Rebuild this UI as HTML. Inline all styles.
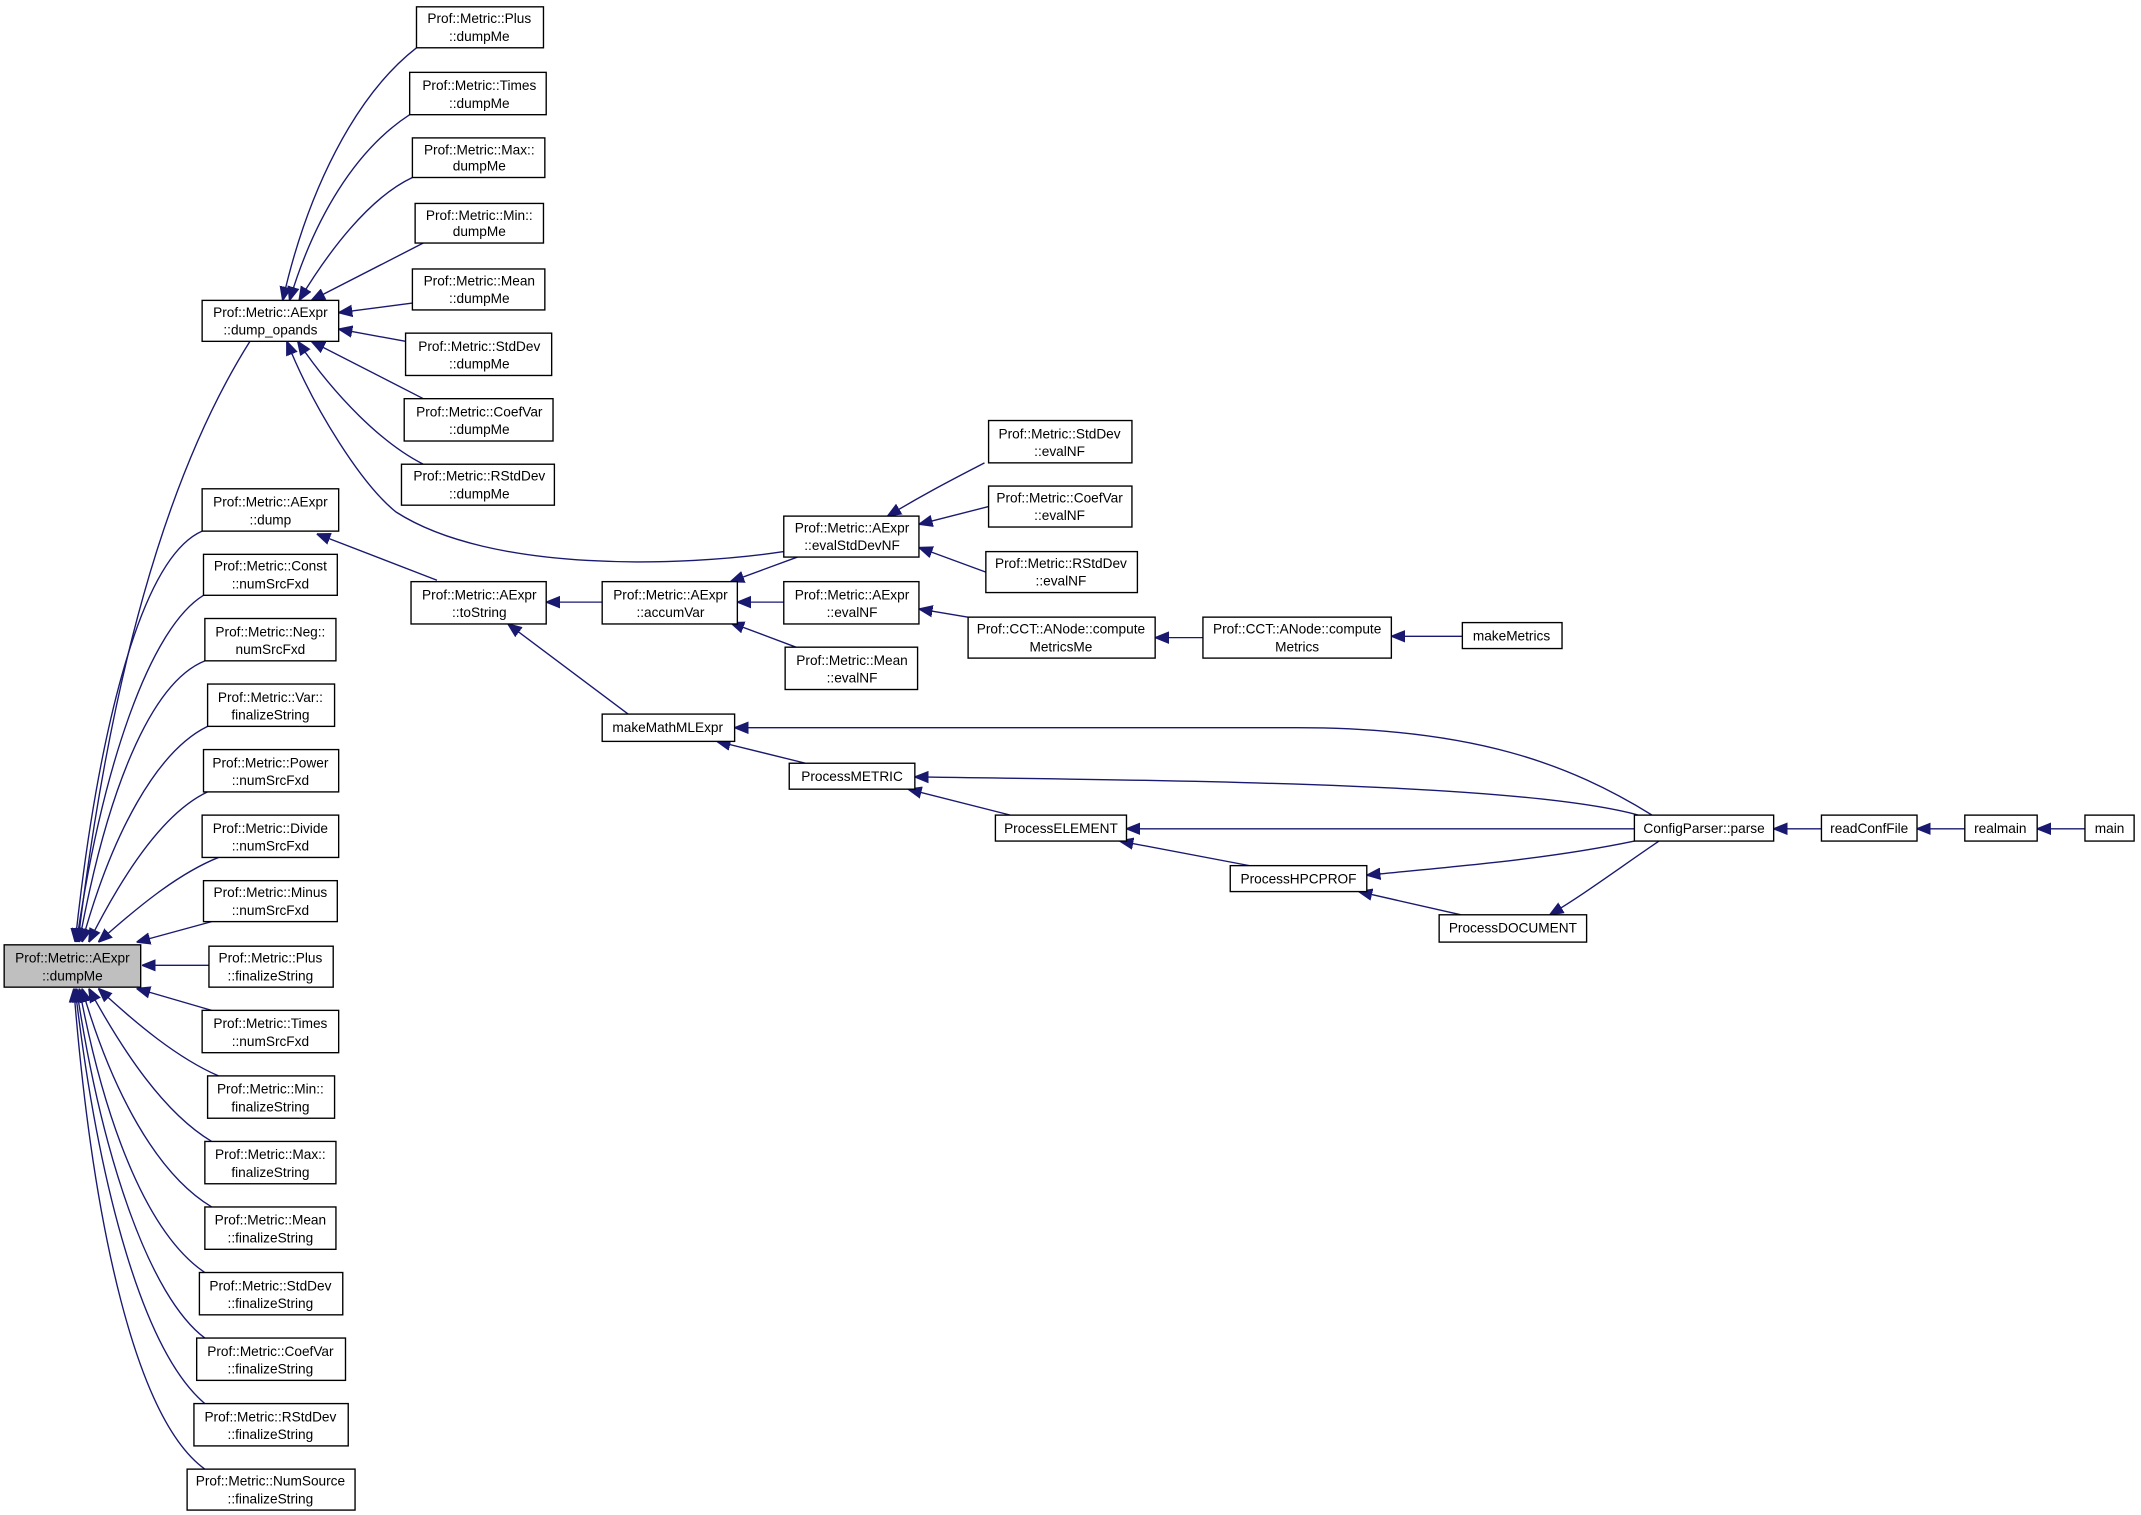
<!DOCTYPE html>
<html><head><meta charset="utf-8"><style>
html,body{margin:0;padding:0;background:#fff;}
svg{display:block;}
text{font-family:"Liberation Sans",sans-serif;font-size:10px;fill:#000;text-anchor:middle;}
.b{fill:#fff;stroke:#000;stroke-width:1;}
.e{fill:none;stroke:#191970;stroke-width:1;}
</style></head><body>
<svg width="2141" height="1515" viewBox="0 0 1568 1109.6" xmlns="http://www.w3.org/2000/svg">
<defs><marker id="a" viewBox="0 0 10 10" refX="10" refY="5" markerWidth="10" markerHeight="10" markerUnits="userSpaceOnUse" orient="auto"><path d="M0,1 L10,5 L0,9 z" fill="#191970" stroke="#191970"/></marker></defs>
<g class="e" marker-end="url(#a)">
<!-- dumpMe incoming -->
<path d="M183,250 C120,350 80,500 57,690"/>
<path d="M148,389 C100,410 70,550 55,690"/>
<path d="M149,436 C110,460 75,560 56,690"/>
<path d="M150,484 C110,500 78,580 58,690"/>
<path d="M152,532 C115,550 82,610 60,690"/>
<path d="M152,580 C120,595 90,640 65,690"/>
<path d="M160,628 C130,640 100,665 72,690"/>
<path d="M155,675 L100,690"/>
<path d="M153,707 L104,707"/>
<path d="M155,740 L100,724"/>
<path d="M160,788 C130,775 100,750 72,724"/>
<path d="M155,836 C120,815 90,770 65,724"/>
<path d="M155,884 C115,860 82,800 60,724"/>
<path d="M150,932 C110,905 78,830 58,724"/>
<path d="M150,980 C110,950 75,850 56,724"/>
<path d="M150,1028 C105,990 72,870 55,724"/>
<path d="M150,1076 C100,1040 68,900 54,724"/>
<!-- dump_opands incoming -->
<path d="M305,35 C260,70 225,140 207,220"/>
<path d="M300,84 C260,110 230,160 212,220"/>
<path d="M302,130 C270,145 240,185 219,220"/>
<path d="M310,178 L228,220"/>
<path d="M302,222 L248,229"/>
<path d="M297,250 L248,241"/>
<path d="M310,292 L228,250"/>
<path d="M310,340 C280,325 245,290 218,250"/>
<path d="M574,404 C500,415 360,420 290,375 C265,355 230,300 210,250"/>
<!-- toString etc -->
<path d="M320,425 L232,391"/>
<path d="M441,441 L400,441"/>
<path d="M460,523 L372,457"/>
<path d="M584,408 L535,426"/>
<path d="M574,441 L540,441"/>
<path d="M583,474 L535,456"/>
<path d="M721,339 C700,350 680,360 650,378"/>
<path d="M724,371 L673,384"/>
<path d="M722,419 L673,401"/>
<path d="M709,452 L673,446"/>
<path d="M881,467 L846,467"/>
<path d="M1071,466 L1019,466"/>
<path d="M590,559 L525,543"/>
<path d="M1210,597 C1150,560 1080,533 950,533 L538,533"/>
<path d="M1200,597 C1120,575 900,572 670,569"/>
<path d="M740,597 L665,578"/>
<path d="M1197,607 L825,607"/>
<path d="M915,634 L820,616"/>
<path d="M1197,616 C1130,630 1060,635 1001,641"/>
<path d="M1070,670 L995,653"/>
<path d="M1215,616 C1180,640 1160,655 1135,670"/>
<path d="M1334,607 L1299,607"/>
<path d="M1439,607 L1404,607"/>
<path d="M1527,607 L1492,607"/>
</g>
<!-- nodes -->
<rect x="3" y="692" width="100" height="31" fill="#bfbfbf" stroke="#000"/>
<text x="53" y="705">Prof::Metric::AExpr</text><text x="53" y="718">::dumpMe</text>

<rect class="b" x="148" y="220" width="100" height="30"/><text x="198" y="232">Prof::Metric::AExpr</text><text x="198" y="245">::dump_opands</text>
<rect class="b" x="148" y="358" width="100" height="31"/><text x="198" y="371">Prof::Metric::AExpr</text><text x="198" y="384">::dump</text>
<rect class="b" x="149" y="406" width="98" height="30"/><text x="198" y="418">Prof::Metric::Const</text><text x="198" y="431">::numSrcFxd</text>
<rect class="b" x="150" y="453" width="96" height="31"/><text x="198" y="466">Prof::Metric::Neg::</text><text x="198" y="479">numSrcFxd</text>
<rect class="b" x="152" y="501" width="93" height="31"/><text x="198" y="514">Prof::Metric::Var::</text><text x="198" y="527">finalizeString</text>
<rect class="b" x="149" y="549" width="99" height="31"/><text x="198" y="562">Prof::Metric::Power</text><text x="198" y="575">::numSrcFxd</text>
<rect class="b" x="148" y="597" width="100" height="31"/><text x="198" y="610">Prof::Metric::Divide</text><text x="198" y="623">::numSrcFxd</text>
<rect class="b" x="149" y="645" width="98" height="30"/><text x="198" y="657">Prof::Metric::Minus</text><text x="198" y="670">::numSrcFxd</text>
<rect class="b" x="153" y="693" width="91" height="30"/><text x="198" y="705">Prof::Metric::Plus</text><text x="198" y="718">::finalizeString</text>
<rect class="b" x="148" y="740" width="100" height="31"/><text x="198" y="753">Prof::Metric::Times</text><text x="198" y="766">::numSrcFxd</text>
<rect class="b" x="152" y="788" width="93" height="31"/><text x="198" y="801">Prof::Metric::Min::</text><text x="198" y="814">finalizeString</text>
<rect class="b" x="150" y="836" width="96" height="31"/><text x="198" y="849">Prof::Metric::Max::</text><text x="198" y="862">finalizeString</text>
<rect class="b" x="150" y="884" width="96" height="31"/><text x="198" y="897">Prof::Metric::Mean</text><text x="198" y="910">::finalizeString</text>
<rect class="b" x="146" y="932" width="105" height="31"/><text x="198" y="945">Prof::Metric::StdDev</text><text x="198" y="958">::finalizeString</text>
<rect class="b" x="144" y="980" width="109" height="31"/><text x="198" y="993">Prof::Metric::CoefVar</text><text x="198" y="1006">::finalizeString</text>
<rect class="b" x="142" y="1028" width="113" height="31"/><text x="198" y="1041">Prof::Metric::RStdDev</text><text x="198" y="1054">::finalizeString</text>
<rect class="b" x="137" y="1076" width="123" height="30"/><text x="198" y="1088">Prof::Metric::NumSource</text><text x="198" y="1101">::finalizeString</text>

<rect class="b" x="305" y="5" width="93" height="30"/><text x="351" y="17">Prof::Metric::Plus</text><text x="351" y="30">::dumpMe</text>
<rect class="b" x="300" y="53" width="100" height="31"/><text x="351" y="66">Prof::Metric::Times</text><text x="351" y="79">::dumpMe</text>
<rect class="b" x="302" y="101" width="97" height="29"/><text x="351" y="113">Prof::Metric::Max::</text><text x="351" y="125">dumpMe</text>
<rect class="b" x="304" y="149" width="94" height="29"/><text x="351" y="161">Prof::Metric::Min::</text><text x="351" y="173">dumpMe</text>
<rect class="b" x="302" y="197" width="97" height="30"/><text x="351" y="209">Prof::Metric::Mean</text><text x="351" y="222">::dumpMe</text>
<rect class="b" x="297" y="244" width="107" height="31"/><text x="351" y="257">Prof::Metric::StdDev</text><text x="351" y="270">::dumpMe</text>
<rect class="b" x="296" y="292" width="109" height="31"/><text x="351" y="305">Prof::Metric::CoefVar</text><text x="351" y="318">::dumpMe</text>
<rect class="b" x="294" y="340" width="112" height="30"/><text x="351" y="352">Prof::Metric::RStdDev</text><text x="351" y="365">::dumpMe</text>
<rect class="b" x="301" y="426" width="99" height="31"/><text x="351" y="439">Prof::Metric::AExpr</text><text x="351" y="452">::toString</text>

<rect class="b" x="441" y="426" width="99" height="31"/><text x="491" y="439">Prof::Metric::AExpr</text><text x="491" y="452">::accumVar</text>
<rect class="b" x="574" y="378" width="99" height="30"/><text x="624" y="390">Prof::Metric::AExpr</text><text x="624" y="403">::evalStdDevNF</text>
<rect class="b" x="574" y="426" width="99" height="31"/><text x="624" y="439">Prof::Metric::AExpr</text><text x="624" y="452">::evalNF</text>
<rect class="b" x="575" y="474" width="97" height="31"/><text x="624" y="487">Prof::Metric::Mean</text><text x="624" y="500">::evalNF</text>
<rect class="b" x="724" y="308" width="105" height="31"/><text x="776" y="321">Prof::Metric::StdDev</text><text x="776" y="334">::evalNF</text>
<rect class="b" x="724" y="356" width="105" height="30"/><text x="776" y="368">Prof::Metric::CoefVar</text><text x="776" y="381">::evalNF</text>
<rect class="b" x="722" y="404" width="111" height="30"/><text x="777" y="416">Prof::Metric::RStdDev</text><text x="777" y="429">::evalNF</text>
<rect class="b" x="709" y="452" width="137" height="30"/><text x="777" y="464">Prof::CCT::ANode::compute</text><text x="777" y="477">MetricsMe</text>
<rect class="b" x="881" y="452" width="138" height="30"/><text x="950" y="464">Prof::CCT::ANode::compute</text><text x="950" y="477">Metrics</text>
<rect class="b" x="1071" y="456" width="73" height="19"/><text x="1107" y="469">makeMetrics</text>
<rect class="b" x="441" y="523" width="97" height="20"/><text x="489" y="536">makeMathMLExpr</text>
<rect class="b" x="578" y="559" width="92" height="19"/><text x="624" y="572">ProcessMETRIC</text>
<rect class="b" x="729" y="597" width="96" height="19"/><text x="777" y="610">ProcessELEMENT</text>
<rect class="b" x="901" y="634" width="100" height="19"/><text x="951" y="647">ProcessHPCPROF</text>
<rect class="b" x="1054" y="670" width="108" height="20"/><text x="1108" y="683">ProcessDOCUMENT</text>
<rect class="b" x="1197" y="597" width="102" height="19"/><text x="1248" y="610">ConfigParser::parse</text>
<rect class="b" x="1334" y="597" width="70" height="19"/><text x="1369" y="610">readConfFile</text>
<rect class="b" x="1439" y="597" width="53" height="19"/><text x="1465" y="610">realmain</text>
<rect class="b" x="1527" y="597" width="36" height="19"/><text x="1545" y="610">main</text>
</svg>
</body></html>
